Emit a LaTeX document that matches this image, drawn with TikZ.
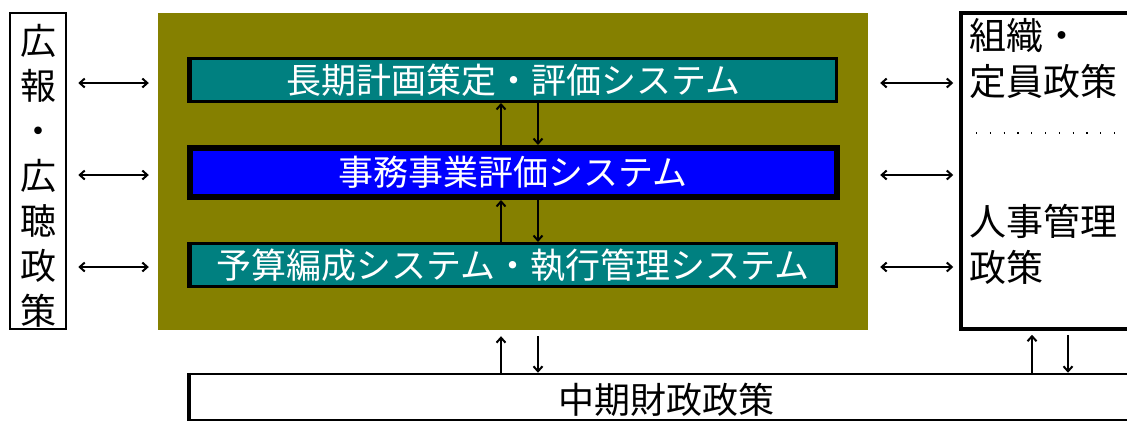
\documentclass[tikz,border=0pt]{standalone}
\usepackage{fontspec}
\setmainfont{Noto Sans CJK JP}
\usetikzlibrary{arrows.meta,calc}
\definecolor{olivebg}{RGB}{133,128,0}
\definecolor{tealbox}{RGB}{0,128,128}
\definecolor{bluebox}{RGB}{0,0,255}
\begin{document}
\begin{tikzpicture}[x=1pt,y=-1pt,
  sysbox/.style={draw=black, line width=3pt, fill=tealbox, minimum width=647pt, minimum height=43pt, inner sep=0pt, text=white, font=\fontsize{35}{35}\selectfont},
  bluesys/.style={sysbox, fill=bluebox, line width=6pt, minimum width=647pt, minimum height=49pt},
  plainbox/.style={draw=black, line width=2.5pt, fill=white, inner sep=0pt},
  jtext/.style={inner sep=0pt, align=left, font=\fontsize{37}{46}\selectfont},
  dar/.style={{Straight Barb[length=5pt,width=9pt]}-{Straight Barb[length=5pt,width=9pt]}, line width=2pt},
  uar/.style={-{Straight Barb[length=5pt,width=9pt]}, line width=2pt}]
\useasboundingbox (0,0) rectangle (1127,421);
\clip (0,0) rectangle (1127,421);
\fill[white] (0,0) rectangle (1127,421);
% left box
\node[plainbox, minimum width=56pt, minimum height=316pt] (lb) at (38,171) {};
\node[inner sep=0pt, align=center, font=\fontsize{36}{45}\selectfont] (lbt) at (38,176) {広\\報\\・\\広\\聴\\政\\策};
% olive panel
\node[fill=olivebg, minimum width=710pt, minimum height=317pt, inner sep=0pt] (olive) at (513,171.5) {};
% systems
\node[sysbox] (s1) at (513,80) {長期計画策定・評価システム};
\node[bluesys] (s2) at (513,172.5) {事務事業評価システム};
\node[sysbox] (s3) at (513,265) {予算編成システム・執行管理システム};
\draw[line width=5pt] ([xshift=1pt]s1.north west) -- ([xshift=1pt]s1.south west);
\draw[line width=5pt] ([xshift=1pt]s3.north west) -- ([xshift=1pt]s3.south west);
% right box
\node[plainbox, line width=3.5pt, minimum width=180pt, minimum height=316pt] (rb) at (1051,171) {};
\node[jtext, anchor=north west] (rt1) at (969,18) {組織・\\定員政策};
\node[jtext, anchor=north west] (rt2) at (969,204) {人事管理\\政策};
\coordinate (d1) at (976,133);
\coordinate (d2) at (1120,133);
\draw[line width=1.2pt, dash pattern=on 1.2pt off 12.6pt] (d1) -- (d2);
% bottom box
\node[plainbox, minimum width=950pt, minimum height=46pt] (bb) at (664,397) {};
\draw[line width=4pt] ([xshift=0.8pt]bb.north west) -- ([xshift=0.8pt]bb.south west);
\node[inner sep=0pt, font=\fontsize{36}{36}\selectfont] (bbt) at (666,400) {中期財政政策};
% vertical arrow positions
\coordinate (ua) at (501,0);
\coordinate (da) at (538,0);
\coordinate (ub) at (1032,0);
\coordinate (db) at (1068,0);
\draw[uar] (s2.north -| ua) -- (s1.south -| ua);
\draw[uar] (s1.south -| da) -- (s2.north -| da);
\draw[uar] (s3.north -| ua) -- (s2.south -| ua);
\draw[uar] (s2.south -| da) -- (s3.north -| da);
\draw[uar, shorten >=6pt] (bb.north -| ua) -- (olive.south -| ua);
\draw[uar, shorten <=6pt] (olive.south -| da) -- (bb.north -| da);
\draw[uar, shorten >=4pt] (bb.north -| ub) -- (rb.south -| ub);
\draw[uar, shorten <=4pt] (rb.south -| db) -- (bb.north -| db);
% horizontal double arrows
\foreach \s/\dy in {s1/3, s2/2.5, s3/2} {
  \draw[dar, shorten <=11pt, shorten >=9pt] ([yshift=-\dy pt]lb.east |- \s) -- ([yshift=-\dy pt]olive.west |- \s);
  \draw[dar, shorten <=12pt, shorten >=6pt] ([yshift=-\dy pt]olive.east |- \s) -- ([yshift=-\dy pt]rb.west |- \s);
}
\end{tikzpicture}
\end{document}
